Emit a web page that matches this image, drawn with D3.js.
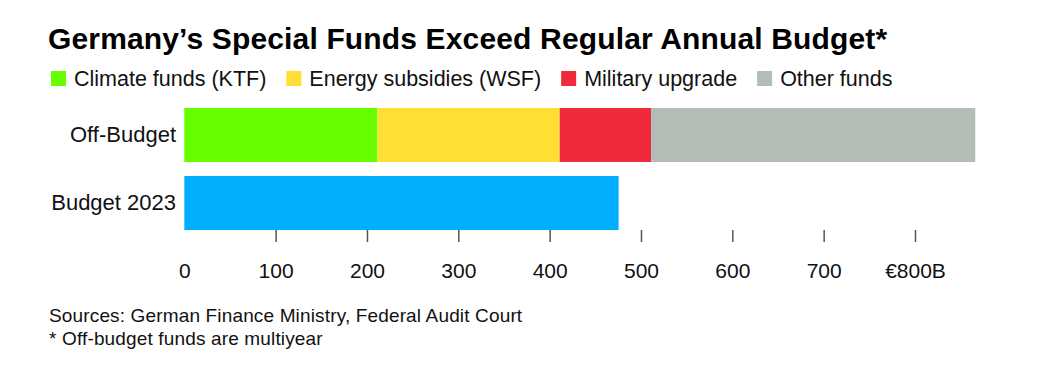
<!DOCTYPE html>
<html>
<head>
<meta charset="utf-8">
<script src="https://cdn.jsdelivr.net/npm/d3@7"></script>
<style>
  body { margin: 0; background: #fff; }
  svg { font-family: "Helvetica Neue", Helvetica, "Liberation Sans", Arial, sans-serif; }
</style>
</head>
<body>
<div id="chart"></div>
<script>
// data (billions of euro)
var categories = ["Off-Budget", "Budget 2023"];
var seriesNames = ["Climate funds (KTF)", "Energy subsidies (WSF)", "Military upgrade", "Other funds"];
var seriesColors = ["#66ff00", "#ffdf33", "#ee2a3b", "#b3bdb5"];
var offBudget = [211.5, 199.5, 100, 355];
var budget2023 = [475.5];
var budgetColor = "#00b0ff";
var tickValues = [0, 100, 200, 300, 400, 500, 600, 700, 800];

var w = 1038, h = 380;

var svg = d3.select("#chart").append("svg")
  .attr("width", w)
  .attr("height", h);

var x = d3.scaleLinear()
  .domain([0, 800])
  .range([184.3, 915]);

var y = d3.scaleBand()
  .domain(categories)
  .range([108, 230])
  .paddingInner(0.206);

// title
svg.append("text")
  .attr("x", 48)
  .attr("y", 49)
  .style("font-size", "30px")
  .style("font-weight", "bold")
  .style("letter-spacing", "0.15px")
  .style("fill", "#000")
  .text("Germany\u2019s Special Funds Exceed Regular Annual Budget*");

// legend
var lx = 51;
seriesNames.forEach(function (name, i) {
  svg.append("rect")
    .attr("x", lx).attr("y", 71)
    .attr("width", 15).attr("height", 15)
    .style("fill", seriesColors[i]);
  var t = svg.append("text")
    .attr("x", lx + 23)
    .attr("y", 86)
    .style("font-size", "21.5px")
    .style("fill", "#111")
    .text(name);
  lx = lx + 23 + t.node().getComputedTextLength() + 20;
});

// stacked off-budget bar
var stacked = [];
var acc = 0;
offBudget.forEach(function (v, i) {
  stacked.push({ x0: acc, x1: acc + v, color: seriesColors[i] });
  acc += v;
});

svg.selectAll(".seg")
  .data(stacked)
  .enter()
  .append("rect")
  .attr("class", "seg")
  .attr("x", function (d) { return x(d.x0); })
  .attr("y", y("Off-Budget"))
  .attr("width", function (d) { return x(d.x1) - x(d.x0); })
  .attr("height", y.bandwidth())
  .style("fill", function (d) { return d.color; });

svg.selectAll(".budget")
  .data(budget2023)
  .enter()
  .append("rect")
  .attr("class", "budget")
  .attr("x", x(0))
  .attr("y", y("Budget 2023"))
  .attr("width", function (d) { return x(d) - x(0); })
  .attr("height", y.bandwidth())
  .style("fill", budgetColor);

// category labels
svg.selectAll(".cat")
  .data(categories)
  .enter()
  .append("text")
  .attr("class", "cat")
  .attr("x", 176)
  .attr("y", function (d) { return y(d) + y.bandwidth() / 2 + 7; })
  .attr("text-anchor", "end")
  .style("font-size", "22px")
  .style("fill", "#111")
  .text(function (d) { return d; });

// axis
var axis = d3.axisBottom(x)
  .tickValues(tickValues)
  .tickSize(12)
  .tickFormat(function (d) { return d == 800 ? "\u20ac800B" : d; });

var gx = svg.append("g")
  .attr("transform", "translate(0,230)")
  .call(axis);

gx.select(".domain").remove();
gx.selectAll(".tick line")
  .style("stroke", "#555")
  .style("stroke-width", 1.5)
  .style("opacity", function (d) { return d == 0 ? 0 : 1; });
gx.selectAll(".tick text")
  .attr("y", 48)
  .attr("dy", null)
  .style("font-size", "21px")
  .style("font-family", "\"Helvetica Neue\", Helvetica, \"Liberation Sans\", Arial, sans-serif")
  .style("fill", "#111");

// notes
svg.append("text")
  .attr("x", 49)
  .attr("y", 322)
  .style("font-size", "19px")
  .style("letter-spacing", "0.15px")
  .style("fill", "#111")
  .text("Sources: German Finance Ministry, Federal Audit Court");

svg.append("text")
  .attr("x", 49)
  .attr("y", 345)
  .style("font-size", "19px")
  .style("letter-spacing", "0.15px")
  .style("fill", "#111")
  .text("* Off-budget funds are multiyear");
</script>
</body>
</html>
